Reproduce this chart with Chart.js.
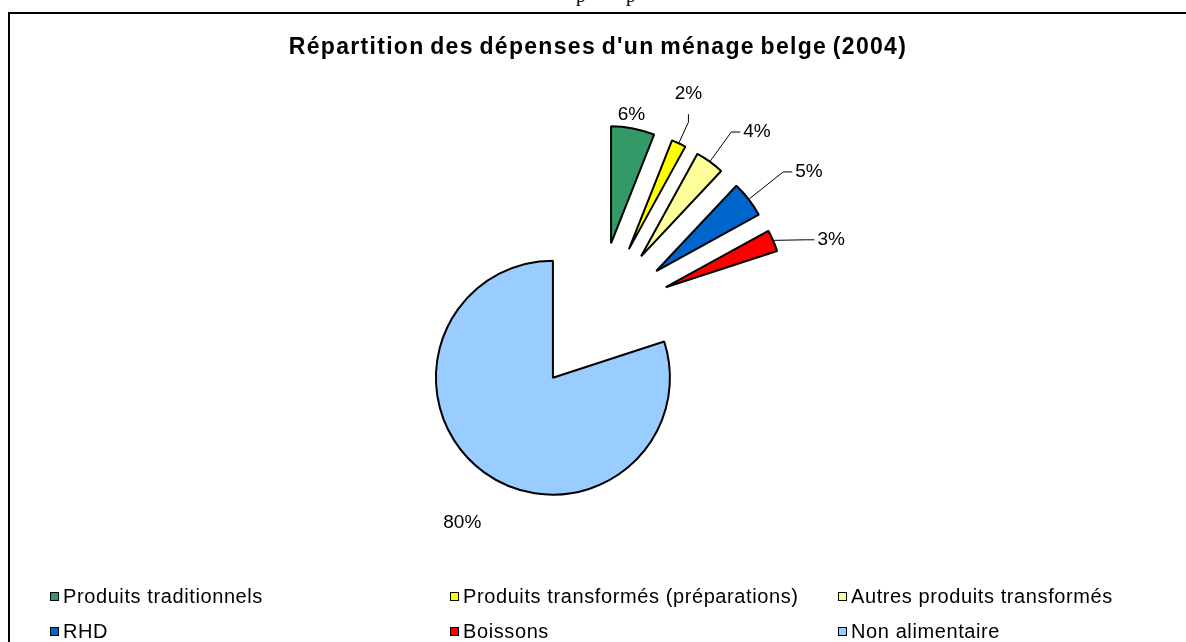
<!DOCTYPE html>
<html>
<head>
<meta charset="utf-8">
<script src="https://cdn.jsdelivr.net/npm/chart.js@4/dist/chart.umd.min.js"></script>
<style>
  html, body { margin: 0; padding: 0; background: #fff; }
  body { width: 1186px; height: 642px; position: relative; overflow: hidden; font-family: "Liberation Sans", Arial, sans-serif; }
  #c { position: absolute; left: 0; top: 0; }
  .frameTop { position: absolute; left: 8px; top: 12px; width: 1178px; height: 2px; background: #000; }
  .frameLeft { position: absolute; left: 8px; top: 12px; width: 2px; height: 630px; background: #000; }
  .frag { position: absolute; top: -15px; font-family: "Liberation Serif", serif; font-size: 19px; color: #000; }
  #title { position: absolute; left: 0; width: 1196px; top: 33px; text-align: center; font-weight: bold; font-size: 23px; letter-spacing: 1.3px; word-spacing: -2px; color: #000; }
  .leg { position: absolute; font-size: 20px; letter-spacing: 0.6px; color: #000; white-space: nowrap; line-height: 22px; }
  .leg i { position: absolute; left: -13px; top: 7px; width: 7px; height: 7px; border: 1px solid #000; }
</style>
</head>
<body>
<div class="frag" style="left:576px">p</div>
<div class="frag" style="left:626px">p</div>
<div class="frameTop"></div>
<div class="frameLeft"></div>
<canvas id="c" width="1186" height="642"></canvas>
<div id="title"></div>
<div id="legend"></div>
<script>
const chartTitle = "Répartition des dépenses d'un ménage belge (2004)";
const categories = ["Produits traditionnels", "Produits transformés (préparations)", "Autres produits transformés", "RHD", "Boissons", "Non alimentaire"];
const values = [6, 2, 4, 5, 3, 80];
const colors = ["#339966", "#FFFF00", "#FFFF99", "#0066CC", "#FF0000", "#99CCFF"];

// label layout (polar, relative to each exploded slice centre): [distance px, angle deg clockwise from north]
const labelPolar = [[130, 9], [166, 21], [170, 43], [182, 57], [172, 74], [171, 212]];
const leaderType = [null, "v", "h", "h", "h", null];
const legendCols = [63, 463, 851];
const legendRows = [585, 620];
const EXPLODE = 75;

document.getElementById('title').textContent = chartTitle;
const legEl = document.getElementById('legend');
categories.forEach((name, i) => {
  const d = document.createElement('div');
  d.className = 'leg';
  d.style.left = legendCols[i % 3] + 'px';
  d.style.top = legendRows[Math.floor(i / 3)] + 'px';
  const box = document.createElement('i');
  box.style.background = colors[i];
  d.appendChild(box);
  d.appendChild(document.createTextNode(name));
  legEl.appendChild(d);
});

const explodePlugin = {
  id: 'explode',
  afterDatasetsUpdate(chart) {
    const ca = chart.chartArea;
    const cx = (ca.left + ca.right) / 2, cy = (ca.top + ca.bottom) / 2;
    chart.getDatasetMeta(0).data.forEach(arc => {
      const mid = (arc.startAngle + arc.endAngle) / 2;
      arc.x = cx + Math.cos(mid) * EXPLODE;
      arc.y = cy + Math.sin(mid) * EXPLODE;
    });
  }
};

const labelPlugin = {
  id: 'pctLabels',
  afterDatasetsDraw(chart) {
    const ctx = chart.ctx;
    const ds = chart.data.datasets[0].data;
    const total = ds.reduce((a, b) => a + b, 0);
    ctx.save();
    ctx.font = '19px "Liberation Sans", Arial, sans-serif';
    ctx.fillStyle = '#000';
    ctx.textAlign = 'center';
    ctx.textBaseline = 'middle';
    ctx.strokeStyle = '#000';
    ctx.lineWidth = 1;
    chart.getDatasetMeta(0).data.forEach((arc, i) => {
      const txt = Math.round(ds[i] / total * 100) + '%';
      const [dist, angDeg] = labelPolar[i];
      const a = angDeg * Math.PI / 180;
      const lx = arc.x + Math.sin(a) * dist;
      const ly = arc.y - Math.cos(a) * dist;
      ctx.fillText(txt, lx, ly);
      const t = leaderType[i];
      if (t) {
        const mid = (arc.startAngle + arc.endAngle) / 2;
        const r = arc.outerRadius + 1;
        const sx = arc.x + Math.cos(mid) * r, sy = arc.y + Math.sin(mid) * r;
        let ex, ey, bx, by;
        if (t === 'v') { ex = lx; ey = ly + 20; bx = lx; by = ly + 28; }
        else { const w = ctx.measureText(txt).width; ex = lx - w / 2 - 3; ey = ly; bx = lx - w / 2 - 12; by = ly; }
        ctx.beginPath();
        ctx.moveTo(sx, sy); ctx.lineTo(bx, by); ctx.lineTo(ex, ey);
        ctx.stroke();
      }
    });
    ctx.restore();
  }
};

new Chart(document.getElementById('c'), {
  type: 'pie',
  data: {
    labels: categories,
    datasets: [{ data: values, backgroundColor: colors, borderColor: '#000', borderWidth: 2 }]
  },
  options: {
    responsive: false,
    animation: false,
    events: [],
    radius: 117,
    layout: { padding: { left: 8, right: 0, top: 0, bottom: 8 } },
    plugins: { legend: { display: false }, title: { display: false }, tooltip: { enabled: false } }
  },
  plugins: [explodePlugin, labelPlugin]
});
</script>
</body>
</html>
